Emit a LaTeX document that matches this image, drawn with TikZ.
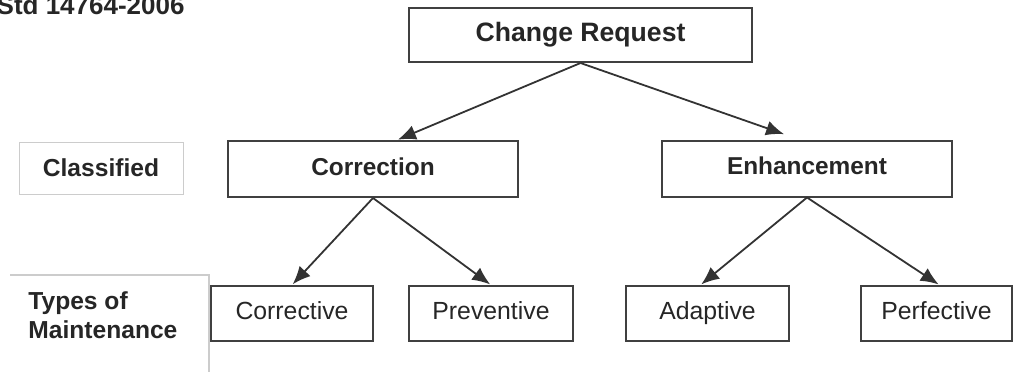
\documentclass[tikz,border=0pt]{standalone}
\usepackage{fontspec}
\setmainfont{Liberation Sans}
\usetikzlibrary{arrows.meta}

\begin{document}
\begin{tikzpicture}[x=0.5pt,y=-0.5pt,
  box/.style={draw=black!75,line width=1pt,inner sep=0pt,text=black!85,text height=9pt,text depth=3pt},
  head/.style={box,font=\bfseries\fontsize{12.2}{14}\selectfont},
  kind/.style={box,minimum height=27.5pt,font=\fontsize{12.4}{14}\selectfont},
  lbl/.style={inner sep=0pt,text=black!85,font=\bfseries\fontsize{12.3}{14.5}\selectfont},
  link/.style={-{Latex[length=9pt,width=7.5pt]},line width=0.9pt,draw=black!80,shorten >=0.5pt}]
  \useasboundingbox (0,0) rectangle (1015,372);

  \node[lbl,anchor=base east,font=\bfseries\fontsize{13}{15}\selectfont] (std) at (185,14) {Std 14764-2006};

  % left column labels
  \node[lbl,draw=black!20,line width=0.5pt,minimum width=82pt,minimum height=26pt] (classified) at (101,168) {Classified};
  \draw[black!20,line width=0.6pt] (10,275) -- (209,275) -- (209,372);
  \node[lbl,anchor=north west,align=left] (types) at (28,291) {Types of\\Maintenance};

  % the tree
  \node[head,minimum width=171.5pt,minimum height=27pt,font=\bfseries\fontsize{13.3}{15}\selectfont] (cr) at (580.5,35) {Change Request};
  \node[head,minimum width=145pt,minimum height=28pt] (corr) at (373,169) {Correction};
  \node[head,minimum width=145pt,minimum height=28pt] (enh) at (807,168.5) {Enhancement};

  \node[kind,minimum width=81pt] (corrective) at (292,313.5) {Corrective};
  \node[kind,minimum width=82pt] (preventive) at (491,313.5) {Preventive};
  \node[kind,minimum width=81.5pt] (adaptive) at (707.5,313.5) {Adaptive};
  \node[kind,minimum width=75.5pt] (perfective) at (936.5,313.5) {Perfective};

  \draw[link] (cr.south) -- ([xshift=12pt]corr.north);
  \draw[link] (cr.south) -- ([xshift=-11pt,yshift=2.5pt]enh.north);
  \draw[link] (corr.south) -- (corrective.north);
  \draw[link] (corr.south) -- (preventive.north);
  \draw[link] (enh.south) -- ([xshift=-3.5pt]adaptive.north);
  \draw[link] (enh.south) -- ([xshift=1.5pt]perfective.north);
\end{tikzpicture}
\end{document}
